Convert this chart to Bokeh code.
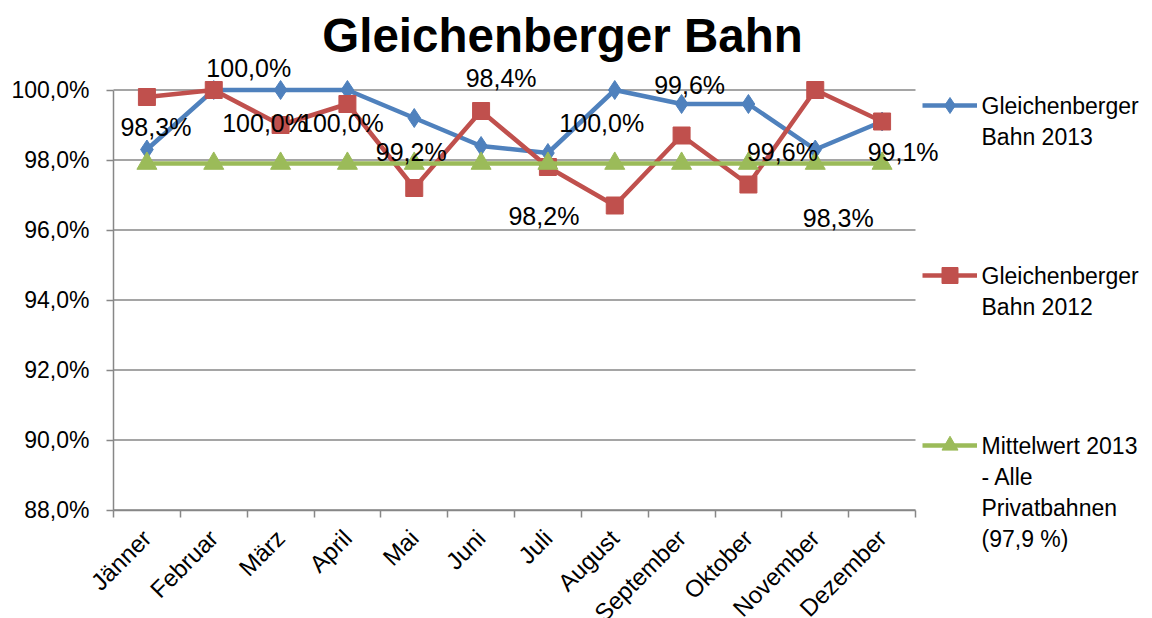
from bokeh.plotting import figure
from bokeh.models import (ColumnDataSource, FixedTicker, LabelSet, Label, Legend,
                          LegendItem, Range1d, CustomJSTickFormatter)
from bokeh.core.properties import value
from bokeh.embed import file_html
from bokeh.resources import INLINE

# ---------------- data ----------------
months = ["Jänner", "Februar", "März", "April", "Mai", "Juni", "Juli", "August",
          "September", "Oktober", "November", "Dezember"]
bahn_2013 = [98.3, 100.0, 100.0, 100.0, 99.2, 98.4, 98.2, 100.0, 99.6, 99.6, 98.3, 99.1]
bahn_2012 = [99.8, 100.0, 99.0, 99.6, 97.2, 99.4, 97.8, 96.7, 98.7, 97.3, 100.0, 99.1]
mittel_2013 = [97.9] * 12
y_ticks = [88, 90, 92, 94, 96, 98, 100]
series_names = ["Gleichenberger\nBahn 2013",
                "Gleichenberger\nBahn 2012",
                "Mittelwert 2013\n- Alle\nPrivatbahnen\n(97,9 %)"]
chart_title = "Gleichenberger Bahn"

# ---------------- layout / style ----------------
FONT = "Liberation Sans"
BLUE, RED, GREEN = "#4F81BD", "#C0504D", "#9BBB59"
GRID = "#878787"
W, H = 1152, 618
PLOT_LEFT = 113            # px where the category axis starts
PLOT_RIGHT = 915           # px where the category axis ends
AXIS_Y = 509.5             # px of the 88 % baseline
PX_PER_PCT = 35.0
Y_MIN, Y_MAX = 88, 100
n = len(months)
px_per_cat = (PLOT_RIGHT - PLOT_LEFT) / n
x_start = -PLOT_LEFT / px_per_cat
x_end = n + (W - PLOT_RIGHT) / px_per_cat
y_start = Y_MIN - (H - AXIS_Y) / PX_PER_PCT
y_end = Y_MIN + AXIS_Y / PX_PER_PCT

# data-label offsets in px (x right, y up), per month
label_dx = [9, 35, -16, -6, -3, 20, -4, -13, 8, 34, 23, 21]
label_dy = [23, 22, -33, -33, -34, 68, -63, -33, 19, -48, -68, -30]


def data_x(px):
    return (px - PLOT_LEFT) / px_per_cat


def data_y(py):
    return Y_MIN + (AXIS_Y - py) / PX_PER_PCT


x_pos = [i + 0.5 for i in range(n)]

p = figure(width=W, height=H, x_range=Range1d(x_start, x_end), y_range=Range1d(y_start, y_end),
           output_backend="svg", toolbar_location=None,
           min_border_left=0, min_border_right=0, min_border_top=0, min_border_bottom=0)
p.outline_line_color = None
p.background_fill_color = "white"
p.border_fill_color = "white"
p.xgrid.visible = False
p.ygrid.visible = False

# horizontal gridlines (from the y ticks)
p.segment(x0=[0] * len(y_ticks), x1=[n] * len(y_ticks), y0=y_ticks, y1=y_ticks,
          line_color=GRID, line_width=1.5)

# axes
p.xaxis.fixed_location = Y_MIN
p.xaxis.bounds = (0, n)
p.xaxis.ticker = FixedTicker(ticks=x_pos, minor_ticks=list(range(n + 1)))
p.xaxis.formatter = CustomJSTickFormatter(args=dict(months=months),
                                          code="return months[Math.floor(tick)] || ''")
p.xaxis.major_label_orientation = 0.785398
p.xaxis.major_tick_line_color = None
p.xaxis.major_tick_out = 7
p.xaxis.major_tick_in = 0
p.xaxis.minor_tick_line_color = GRID
p.xaxis.minor_tick_line_width = 1.5
p.xaxis.minor_tick_out = 7
p.xaxis.minor_tick_in = 0
p.xaxis.axis_line_color = GRID
p.xaxis.axis_line_width = 1.5
p.xaxis.major_label_text_font = FONT
p.xaxis.major_label_text_font_size = "24px"
p.xaxis.major_label_text_color = "black"
p.xaxis.major_label_standoff = 17

p.yaxis.fixed_location = 0
p.yaxis.ticker = FixedTicker(ticks=y_ticks)
p.yaxis.formatter = CustomJSTickFormatter(code="return tick.toFixed(1).replace('.', ',') + '%'")
p.yaxis.bounds = (Y_MIN, Y_MAX)
p.yaxis.axis_line_color = GRID
p.yaxis.axis_line_width = 1.5
p.yaxis.major_tick_line_color = GRID
p.yaxis.major_tick_line_width = 1.5
p.yaxis.major_tick_out = 7
p.yaxis.major_tick_in = 0
p.yaxis.minor_tick_line_color = None
p.yaxis.major_label_text_font = FONT
p.yaxis.major_label_text_font_size = "23px"
p.yaxis.major_label_text_color = "black"
p.yaxis.major_label_standoff = 17

# title
p.add_layout(Label(x=data_x(562), y=data_y(35), text=chart_title, text_font=FONT,
                   text_font_size="47.5px", text_font_style="bold", text_color="black",
                   text_align="center", text_baseline="alphabetic"))

# series
src = ColumnDataSource(dict(x=x_pos, b13=bahn_2013, b12=bahn_2012, mw=mittel_2013,
                            txt=[("%.1f" % v).replace(".", ",") + "%" for v in bahn_2013],
                            dx=label_dx, dy=label_dy))

l13 = p.line("x", "b13", source=src, line_color=BLUE, line_width=4.5)
m13 = p.scatter("x", "b13", source=src, marker="diamond", size=19, fill_color=BLUE, line_color=BLUE)
l12 = p.line("x", "b12", source=src, line_color=RED, line_width=4.5)
m12 = p.scatter("x", "b12", source=src, marker="square", size=17, fill_color=RED, line_color=RED)
lmw = p.line("x", "mw", source=src, line_color=GREEN, line_width=4.5)
mmw = p.scatter("x", "mw", source=src, marker="triangle", size=20, fill_color=GREEN, line_color=GREEN)

labels = LabelSet(x="x", y="b13", text="txt", x_offset="dx", y_offset="dy", source=src,
                  text_font=value(FONT), text_font_size=value("25px"), text_color="black",
                  text_align="center", text_baseline="middle")
p.add_layout(labels)

# legend (glyphs via Legend, multi-line text via Label)
legend_centers = [105, 275, 445]
renderers = [(l13, m13), (l12, m12), (lmw, mmw)]
GH = 40
for name, cy, rs in zip(series_names, legend_centers, renderers):
    lg = Legend(items=[LegendItem(label=" ", renderers=list(rs))],
                location=(922, H - (cy + GH / 2)),
                background_fill_alpha=0, border_line_alpha=0, padding=0, margin=0,
                spacing=0, glyph_width=55, glyph_height=GH, label_standoff=0,
                label_text_font_size="1px", label_width=1, label_height=1)
    p.add_layout(lg)
    p.add_layout(Label(x=data_x(981), y=data_y(cy - 13), text=name, text_font=FONT,
                       text_font_size="23px", text_color="black", text_align="left",
                       text_baseline="top"))

open("out.html", "w").write(file_html(p, INLINE))
